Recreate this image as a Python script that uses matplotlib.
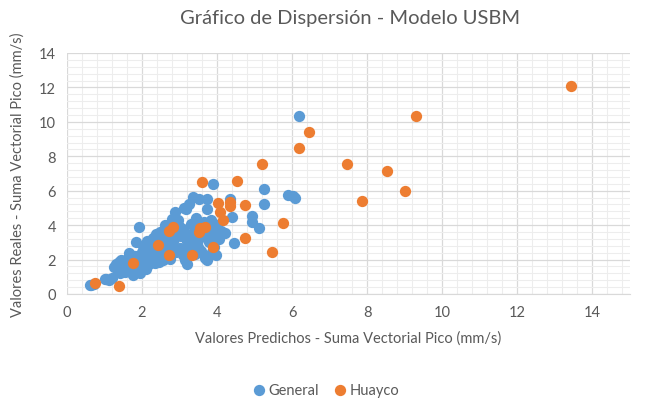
import matplotlib
matplotlib.use("Agg")
import matplotlib.pyplot as plt
from matplotlib.ticker import MultipleLocator

plt.rcParams['font.family'] = ['Lato', 'DejaVu Sans']

general_x = [0.60, 0.65, 0.72, 1.00, 1.05, 1.12, 1.20,
             1.25, 1.30, 1.35, 1.38, 1.40, 1.42, 1.45, 1.48, 1.50, 1.52, 1.55, 1.58, 1.60, 1.62,
             1.65, 1.68, 1.70, 1.72, 1.75, 1.78, 1.80, 1.82, 1.85, 1.88, 1.90, 1.93, 1.95, 1.98,
             2.00, 2.02, 2.05, 2.08, 2.10, 2.12, 2.15, 2.18, 2.20, 2.22, 2.25, 2.28, 2.30, 2.32,
             2.35, 2.38, 2.40, 2.42, 2.45, 2.48, 2.50, 2.52, 2.55, 2.58, 2.60, 2.62, 2.65, 2.68,
             2.70, 2.72, 2.75, 2.78, 2.80, 2.82, 2.85, 2.88, 2.90, 2.92, 2.95, 2.98, 3.00, 3.05,
             3.08, 3.10, 3.12, 3.15, 3.17, 3.20, 3.21, 3.24, 3.26, 3.26, 3.30, 3.32, 3.35, 3.38,
             3.40, 3.45, 3.48, 3.50, 3.52, 3.55, 3.58, 3.62, 3.65, 3.68, 3.72, 3.74, 3.74, 3.78,
             3.80, 3.83, 3.86, 3.89, 3.90, 3.92, 3.96, 4.00, 4.05, 4.10, 4.20, 4.34, 4.41, 4.45,
             4.92, 4.94, 5.11, 5.25, 5.26, 5.89, 6.03, 6.07, 6.19]
general_y = [0.55, 0.50, 0.60, 0.85, 0.90, 0.80, 0.95,
             1.55, 1.75, 1.40, 1.85, 1.20, 1.60, 1.95, 1.35, 1.70, 1.50, 1.25, 1.85, 2.05, 1.45,
             2.40, 1.65, 1.30, 1.95, 1.10, 1.55, 2.20, 1.40, 3.00, 1.75, 2.00, 3.90, 1.20, 1.60,
             2.45, 2.80, 1.85, 2.20, 1.45, 3.05, 2.60, 1.75, 2.35, 2.95, 1.95, 3.25, 2.10, 2.70,
             1.80, 3.50, 2.25, 2.90, 1.85, 3.60, 2.50, 3.10, 2.00, 2.75, 3.30, 4.00, 2.20, 3.00,
             2.55, 3.45, 2.05, 3.75, 4.35, 2.85, 3.20, 4.75, 2.45, 3.55, 4.30, 3.95, 2.70, 3.35,
             2.25, 3.80, 5.00, 2.00, 4.95, 3.10, 1.75, 2.60, 5.20, 3.45, 4.05, 2.90, 5.65, 3.65,
             2.35, 4.40, 3.15, 2.75, 5.50, 3.90, 2.50, 3.40, 4.20, 2.10, 5.50, 4.95, 1.95, 3.00,
             3.75, 4.30, 2.45, 6.40, 3.45, 2.75, 2.25, 4.00, 3.20, 3.65, 3.55, 5.50, 4.50, 2.95,
             4.55, 4.20, 3.85, 6.10, 5.20, 5.78, 5.70, 5.55, 10.35]

huayco_x = [0.74, 1.38, 1.77, 2.43, 2.73, 2.73, 2.82, 3.33, 3.51, 3.54, 3.61, 3.68, 3.88,
            4.02, 4.09, 4.15, 4.35, 4.35, 4.53, 4.74, 4.74, 5.19, 5.47, 5.75, 6.18, 6.44,
            7.45, 7.87, 8.53, 9.02, 9.31, 13.44]
huayco_y = [0.64, 0.48, 1.80, 2.87, 2.27, 3.68, 3.91, 2.25, 3.58, 3.85, 6.51, 3.91, 2.71,
            5.27, 4.75, 4.32, 5.33, 5.13, 6.55, 5.17, 3.24, 7.53, 2.42, 4.13, 8.47, 9.39,
            7.57, 5.40, 7.15, 5.97, 10.36, 12.07]

series_names = ["General", "Huayco"]
title = "Gráfico de Dispersión - Modelo USBM"
xlabel = "Valores Predichos - Suma Vectorial Pico (mm/s)"
ylabel = "Valores Reales - Suma Vectorial Pico (mm/s)"

gray = "#595959"
fig = plt.figure(figsize=(6.46, 4.06), dpi=100)
ax = fig.add_axes([0.1037, 0.2734, 0.8713, 0.5936])

ax.scatter(general_x, general_y, s=66, color="#5B9BD5", label=series_names[0], zorder=3, linewidths=0)
ax.scatter(huayco_x, huayco_y, s=66, color="#ED7D31", label=series_names[1], zorder=4, linewidths=0)

ax.set_xlim(0, 15)
ax.set_ylim(0, 14)
ax.xaxis.set_major_locator(MultipleLocator(2))
ax.yaxis.set_major_locator(MultipleLocator(2))
ax.xaxis.set_minor_locator(MultipleLocator(0.4))
ax.yaxis.set_minor_locator(MultipleLocator(0.4))
ax.grid(which="major", color="#d9d9d9", linewidth=0.9, zorder=1)
ax.grid(which="minor", color="#ededed", linewidth=0.8, zorder=0)
ax.set_axisbelow(True)
for s in ["top", "right", "left"]:
    ax.spines[s].set_visible(False)
ax.spines["bottom"].set_color("#d9d9d9")
ax.tick_params(which="both", length=0, colors=gray, labelsize=10.5)
ax.tick_params(axis="x", pad=8)
ax.tick_params(axis="y", pad=8)

ax.set_xlabel(xlabel, color=gray, fontsize=10.5, labelpad=8)
ax.set_ylabel(ylabel, color=gray, fontsize=10.5, labelpad=10)
fig.text(0.542, 0.955, title, ha="center", va="center", color=gray, fontsize=14.5)

leg = fig.legend(loc="center", bbox_to_anchor=(0.505, 0.037), ncol=2, frameon=False,
                 fontsize=10.5, handlelength=0.8, handletextpad=0.3, columnspacing=1.0,
                 markerscale=1.0)
for t in leg.get_texts():
    t.set_color(gray)

fig.savefig("out.png", dpi=100)
